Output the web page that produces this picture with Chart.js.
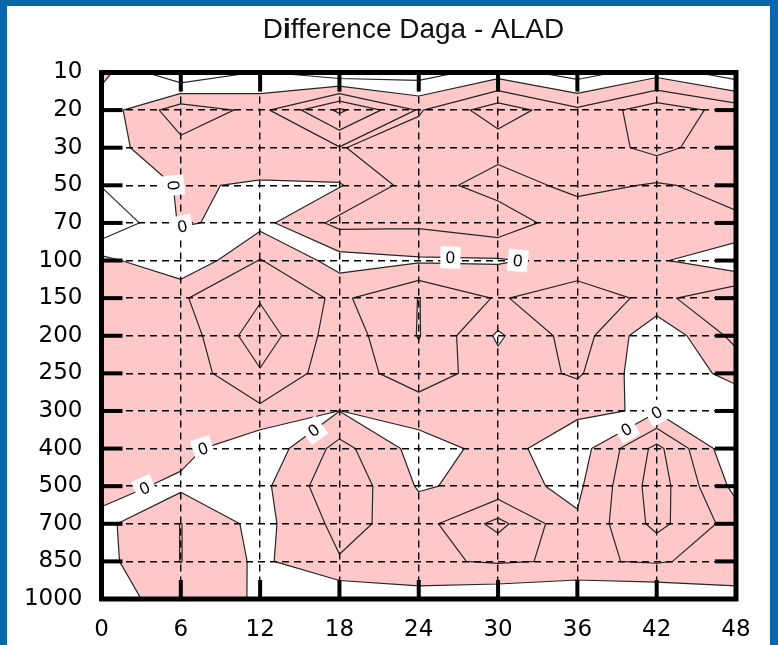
<!DOCTYPE html>
<html>
<head>
<meta charset="utf-8">
<title>Difference Daga - ALAD</title>
<script src="https://cdn.jsdelivr.net/npm/chart.js@4.4.0/dist/chart.umd.min.js"></script>
<style>
  html, body { margin: 0; padding: 0; }
  body { width: 778px; height: 645px; background: #0767ad; position: relative; overflow: hidden; }
  .panel { position: absolute; left: 7px; top: 6px; right: 8px; bottom: 0; background: #fff; }
  .wrap { position: absolute; left: 0; top: 0; width: 778px; height: 645px; }
</style>
</head>
<body>
<div class="panel"></div>
<div class="wrap"><canvas id="chart" width="778" height="645"></canvas></div>
<script>
// forecast hour (x) and pressure level (y, top to bottom)
const hours = [0, 6, 12, 18, 24, 30, 36, 42, 48];
const levels = ["10", "20", "30", "50", "70", "100", "150", "200", "250", "300", "400", "500", "700", "850", "1000"];

// difference Daga - ALAD, one array per level, one value per forecast hour
const p10   = [ 0.3, -2.0, -0.9, -1.8,  -1.5, -0.5,  -1.5, -0.4, -1.6];
const p20   = [-0.6,  1.6,  0.7,  3.2,   0.9,  2.6,   1.2,  2.6,  1.6];
const p30   = [-0.4,  0.7,  0.6,  0.95,  1.5,  1.4,   1.4,  2.3,  1.3];
const p50   = [-0.95, 0.1, -0.1, -0.08,  1.5,  0.5,   1.3,  0.9,  1.3];
const p70   = [-2.0,  0.1, -0.3,  1.29,  1.2,  1.7,   0.3,  0.7,  0.85];
const p100  = [ 0.3, -0.9,  1.05, -0.4, -0.13, -0.1,  0.3,  0.15, -0.8];
const p150  = [ 0.6,  0.9,  1.9,  0.8,   2.02, 0.9,   1.6,  0.7,  1.9];
const p200  = [ 0.7,  0.4,  2.6,  0.4,   2.05, -0.15, 1.5, -0.8,  1.3];
const p250  = [ 0.7,  0.4,  1.9,  0.4,   1.6,  0.4,   1.15, -0.8, 0.34];
const p300  = [ 0.6,  0.5,  0.78, -0.01, 0.4,  0.6,   0.15, -0.1, -0.8];
const p400  = [ 0.5,  0.3, -0.78, 1.35, -0.4,  0.3,  -0.5,  2.29, -0.9];
const p500  = [ 0.3, -0.2, -0.3,  1.8,  -0.1,  0.3,  -0.2,  2.5, -0.3];
const p700  = [-0.25, 1.02, -0.35, 1.3,  0.57, 2.3,   0.13, 2.3,  0.56];
const p850  = [-0.3,  1.02, -0.2,  0.93,  0.85, 1.1,  0.88, 1.1,  0.6];
const p1000 = [-0.5,  0.5, -0.1, -0.9,  -0.46, -0.73, -0.9, -0.9, -0.32];

const field = [p10, p20, p30, p50, p70, p100, p150, p200, p250, p300, p400, p500, p700, p850, p1000];
const contourLevels = [-1, 0, 1, 2, 3];

// where the "0" labels sit (hour, level index); snapped onto the zero line
const zeroLabelHours = [5.5, 6.2, 26.4, 32.3, 3.2, 7.6, 16.0, 39.7, 42.0];
const zeroLabelRows  = [3.0, 4.25, 4.88, 5.0, 11.0, 9.97, 9.49, 9.49, 9.04];

const PINK = "#ffc8c8";

function corners(chart, c, r) {
  const xs = chart.scales.x, ys = chart.scales.y;
  const pt = (cc, rr) => ({ x: xs.getPixelForValue(hours[cc]), y: ys.getPixelForValue(rr), v: field[rr][cc] });
  return [pt(c, r), pt(c + 1, r), pt(c + 1, r + 1), pt(c, r + 1)];
}

function lerp(a, b, lvl) {
  const t = (lvl - a.v) / (b.v - a.v);
  return { x: a.x + t * (b.x - a.x), y: a.y + t * (b.y - a.y) };
}

function edgeCrossings(k, lvl) {
  const up = k.map(p => p.v > lvl);
  const cross = [];
  for (let i = 0; i < 4; i++) {
    const j = (i + 1) % 4;
    cross.push(up[i] !== up[j] ? lerp(k[i], k[j], lvl) : null);
  }
  return { up, cross };
}

// segments of one level in one cell; saddles keep the high corners apart
function cellSegments(k, lvl) {
  const { up, cross } = edgeCrossings(k, lvl);
  const n = up.filter(Boolean).length;
  if (n === 0 || n === 4) return [];
  const hits = cross.filter(Boolean);
  if (hits.length === 2) return [hits];
  const segs = [];
  for (let i = 0; i < 4; i++) if (up[i]) segs.push([cross[(i + 3) % 4], cross[i]]);
  return segs;
}

function cellFill(k) {
  const { up, cross } = edgeCrossings(k, 0);
  const n = up.filter(Boolean).length;
  if (n === 0) return [];
  if (n === 2 && up[0] === up[2]) {
    const tris = [];
    for (let i = 0; i < 4; i++) if (up[i]) tris.push([k[i], cross[i], cross[(i + 3) % 4]]);
    return tris;
  }
  const poly = [];
  for (let i = 0; i < 4; i++) {
    if (up[i]) poly.push(k[i]);
    if (cross[i]) poly.push(cross[i]);
  }
  return [poly];
}

function eachCell(chart, fn) {
  for (let r = 0; r < field.length - 1; r++)
    for (let c = 0; c < hours.length - 1; c++) fn(corners(chart, c, r));
}

function zeroSegments(chart) {
  const out = [];
  eachCell(chart, k => cellSegments(k, 0).forEach(s => out.push(s)));
  return out;
}

const contourPlugin = {
  id: "contours",
  beforeDraw(chart) {
    const ctx = chart.ctx;
    const area = chart.chartArea;
    ctx.save();
    ctx.beginPath();
    ctx.rect(area.left, area.top, area.right - area.left, area.bottom - area.top);
    ctx.clip();

    ctx.beginPath();
    eachCell(chart, k => {
      cellFill(k).forEach(poly => {
        ctx.moveTo(poly[0].x, poly[0].y);
        for (let i = 1; i < poly.length; i++) ctx.lineTo(poly[i].x, poly[i].y);
        ctx.closePath();
      });
    });
    ctx.fillStyle = PINK;
    ctx.fill("nonzero");

    ctx.beginPath();
    contourLevels.forEach(lvl => {
      eachCell(chart, k => {
        cellSegments(k, lvl).forEach(s => {
          ctx.moveTo(s[0].x, s[0].y);
          ctx.lineTo(s[1].x, s[1].y);
        });
      });
    });
    ctx.strokeStyle = "#262626";
    ctx.lineWidth = 1.2;
    ctx.lineCap = "round";
    ctx.stroke();
    ctx.restore();
  },
  afterDraw(chart) {
    const ctx = chart.ctx;
    const area = chart.chartArea;
    const xs = chart.scales.x, ys = chart.scales.y;

    // "0" labels on the zero line
    const segs = zeroSegments(chart);
    ctx.save();
    ctx.font = '17px "Liberation Sans"';
    ctx.textAlign = "center";
    ctx.textBaseline = "middle";
    zeroLabelHours.forEach((h, i) => {
      const px = xs.getPixelForValue(h), py = ys.getPixelForValue(zeroLabelRows[i]);
      let best = null, bestD = Infinity;
      segs.forEach(s => {
        const dx = s[1].x - s[0].x, dy = s[1].y - s[0].y;
        const len2 = dx * dx + dy * dy || 1;
        let t = ((px - s[0].x) * dx + (py - s[0].y) * dy) / len2;
        t = Math.max(0, Math.min(1, t));
        const qx = s[0].x + t * dx, qy = s[0].y + t * dy;
        const d = (qx - px) ** 2 + (qy - py) ** 2;
        if (d < bestD) { bestD = d; best = { x: qx, y: qy, a: Math.atan2(dy, dx) }; }
      });
      if (!best) return;
      let a = best.a;
      if (a > Math.PI / 2) a -= Math.PI;
      if (a < -Math.PI / 2) a += Math.PI;
      ctx.save();
      ctx.translate(best.x, best.y);
      ctx.rotate(a);
      ctx.fillStyle = "#fff";
      ctx.fillRect(-10, -11, 20, 22);
      ctx.fillStyle = "#000";
      ctx.fillText("0", 0, 1);
      ctx.restore();
    });
    ctx.restore();

    // heavy inward ticks
    ctx.save();
    ctx.fillStyle = "#000";
    xs.ticks.forEach((t, i) => {
      if (i === 0 || i === xs.ticks.length - 1) return;
      const x = xs.getPixelForTick(i);
      ctx.fillRect(x - 2, area.top, 4, 19);
      ctx.fillRect(x - 2, area.bottom - 19, 4, 19);
    });
    ys.ticks.forEach((t, i) => {
      if (i === 0 || i === ys.ticks.length - 1) return;
      const y = ys.getPixelForTick(i);
      ctx.fillRect(area.left, y - 2, 21, 4);
      ctx.fillRect(area.right - 21, y - 2, 21, 4);
    });
    // frame
    ctx.strokeStyle = "#000";
    ctx.lineWidth = 5;
    ctx.strokeRect(area.left, area.top, area.right - area.left, area.bottom - area.top);
    ctx.restore();

    // title, with the bold i
    const parts = [["D", "normal"], ["i", "bold"], ["fference Daga - ALAD", "normal"]];
    ctx.save();
    ctx.fillStyle = "#111";
    ctx.textBaseline = "alphabetic";
    ctx.textAlign = "left";
    let total = 0;
    parts.forEach(p => { ctx.font = p[1] + ' 28px "Liberation Sans"'; total += ctx.measureText(p[0]).width; });
    let x = 413.5 - total / 2;
    parts.forEach(p => {
      ctx.font = p[1] + ' 28px "Liberation Sans"';
      ctx.fillText(p[0], x, 38);
      x += ctx.measureText(p[0]).width;
    });
    ctx.restore();
  }
};

const tickFont = { family: "DejaVu Sans", size: 23 };

new Chart(document.getElementById("chart"), {
  type: "scatter",
  data: { datasets: [{ data: [], pointRadius: 0 }] },
  options: {
    responsive: false,
    animation: false,
    layout: { padding: { top: 72.5, right: 42, bottom: 0, left: 0 } },
    plugins: {
      legend: { display: false },
      tooltip: { enabled: false },
      title: { display: false }
    },
    scales: {
      x: {
        type: "linear",
        min: 0,
        max: 48,
        ticks: { stepSize: 6, padding: 17, color: "#000", font: tickFont, maxRotation: 0, autoSkip: false },
        grid: { color: "#000", lineWidth: 1.4, drawTicks: false },
        border: { display: false, dash: [7, 5] },
        afterFit: s => { s.height = 46; }
      },
      y: {
        type: "linear",
        min: 0,
        max: 14,
        reverse: true,
        ticks: {
          stepSize: 1, padding: 19, color: "#000", font: tickFont, autoSkip: false,
          callback: v => levels[v]
        },
        grid: { color: "#000", lineWidth: 1.4, drawTicks: false },
        border: { display: false, dash: [7, 5] },
        afterFit: s => { s.width = 101.5; }
      }
    }
  },
  plugins: [contourPlugin]
});
</script>
</body>
</html>
